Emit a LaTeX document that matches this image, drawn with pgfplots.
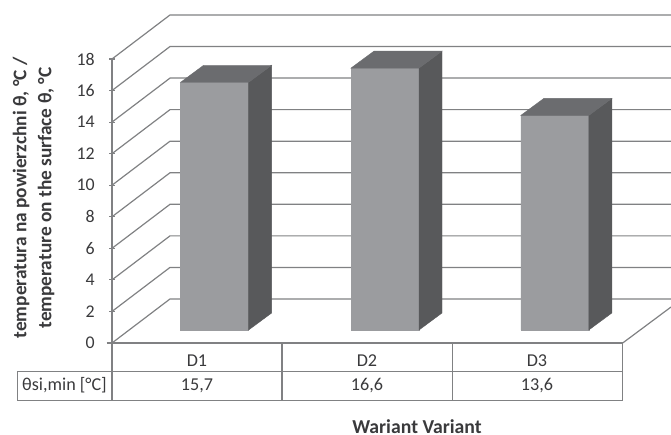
\documentclass[border=0pt]{standalone}
\usepackage{fontspec}
\setmainfont{Carlito}
\usepackage{pgfplots}
\usepackage{pgfplotstable}
\pgfplotsset{compat=1.18}
\definecolor{frontc}{HTML}{9B9C9F}
\definecolor{sidec}{HTML}{58595B}
\definecolor{topc}{HTML}{6B6C6F}
\definecolor{linec}{HTML}{808183}
\definecolor{textc}{HTML}{3A3A3C}
\pgfplotstableread{
x v
214.6 15.7
385.0 16.6
554.8 13.6
}\bars
\begin{document}
\begin{tikzpicture}[x=0.75pt,y=0.75pt]
\path[use as bounding box] (0,0) rectangle (671,435);
\begin{axis}[
  at={(84pt,69pt)},anchor=origin,
  scale only axis,width=419.25pt,height=213pt,
  xmin=112,xmax=671,ymin=0,ymax=18,
  clip=false,
  axis y line=left,axis x line=none,
  axis line style={-,linec,line width=0.9pt},
  ytick={0,2,...,18},
  tick style={linec,line width=0.9pt},
  major tick length=4pt,
  y tick label style={font=\fontsize{13.4}{15}\selectfont,text=textc,xshift=-7.5pt,/pgf/number format/assume math mode=true},
]
\foreach \v in {0,2,...,18}{
  \pgfmathsetmacro{\w}{\v+2.79}
  \edef\temp{\noexpand\addplot[linec,line width=0.9pt,forget plot] coordinates {(112,\v) (170,\w) (671,\w)};}
  \temp
}
% floor edge
\addplot[linec,line width=0.9pt] coordinates {(622.7,0) (671,2.28)};
% data table rules (y in axis units: 15.78 px per unit)
\addplot[linec,line width=1pt] coordinates {(106.7,0) (622.7,0) (622.7,-3.634)};
\addplot[linec,line width=1pt] coordinates {(17.3,-1.8) (622.7,-1.8)};
\addplot[linec,line width=1pt] coordinates {(17.3,-1.8) (17.3,-3.634) (622.7,-3.634)};
\addplot[linec,line width=1pt] coordinates {(112,0) (112,-3.634)};
\addplot[linec,line width=1pt] coordinates {(282,0) (282,-3.634)};
\addplot[linec,line width=1pt] coordinates {(452.3,0) (452.3,-3.634)};
\def\tf{\fontsize{13.6}{15}\selectfont\color{textc}}
\node[anchor=base] at (axis cs:197,-1.52) {\tf D1};
\node[anchor=base] at (axis cs:367,-1.52) {\tf D2};
\node[anchor=base] at (axis cs:537,-1.52) {\tf D3};
\node[anchor=base] at (axis cs:197,-3.04) {\tf 15,7};
\node[anchor=base] at (axis cs:367,-3.04) {\tf 16,6};
\node[anchor=base] at (axis cs:537,-3.04) {\tf 13,6};
\node[anchor=base] at (axis cs:64.5,-3.04) {\tf θsi,min [°C]};
\node[inner sep=0pt] at (axis cs:417,-5.3) {\fontsize{14.8}{15}\selectfont\bfseries\color{textc} Wariant Variant};
\node[rotate=90,align=center,text=textc,font=\fontsize{14.5}{18.75}\selectfont\bfseries] at (axis cs:33.5,9.2) {temperatura na powierzchni θ, °C /\\ temperature on the surface θ, °C};
\end{axis}
\begin{axis}[
  at={(84pt,78.75pt)},anchor=origin,
  scale only axis,width=419.25pt,height=213pt,
  xmin=112,xmax=671,ymin=0,ymax=18,
  clip=false,hide axis,
  ybar,bar width=51pt,
]
\addplot[fill=frontc,draw=frontc,line width=0.3pt] table[x=x,y=v] {\bars};
\end{axis}
\begin{axis}[
  at={(84pt,78.75pt)},anchor=origin,
  scale only axis,width=419.25pt,height=213pt,
  xmin=112,xmax=671,ymin=0,ymax=18,
  clip=false,hide axis,
]
% side faces: front edge x+34, back edge x+57; depth rise 1.077 units
\addplot[fill=sidec,draw=sidec,line width=0.3pt] coordinates {(248.6,0) (271.6,1.077) (271.6,16.777) (248.6,15.7)} -- cycle;
\addplot[fill=topc,draw=topc,line width=0.3pt] coordinates {(180.6,15.7) (203.6,16.777) (271.6,16.777) (248.6,15.7)} -- cycle;
\addplot[fill=sidec,draw=sidec,line width=0.3pt] coordinates {(419,0) (442,1.077) (442,17.677) (419,16.6)} -- cycle;
\addplot[fill=topc,draw=topc,line width=0.3pt] coordinates {(351,16.6) (374,17.677) (442,17.677) (419,16.6)} -- cycle;
\addplot[fill=sidec,draw=sidec,line width=0.3pt] coordinates {(588.8,0) (611.8,1.077) (611.8,14.677) (588.8,13.6)} -- cycle;
\addplot[fill=topc,draw=topc,line width=0.3pt] coordinates {(520.8,13.6) (543.8,14.677) (611.8,14.677) (588.8,13.6)} -- cycle;
\end{axis}
\end{tikzpicture}
\end{document}
